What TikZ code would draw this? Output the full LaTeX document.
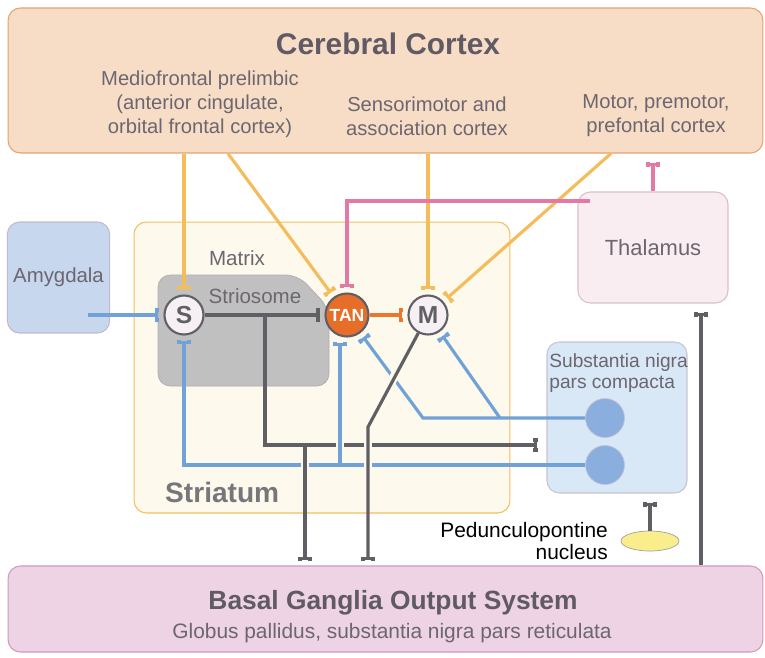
\documentclass[tikz,border=0pt]{standalone}
\usepackage{fontspec}
\setmainfont{Liberation Sans}
\usetikzlibrary{arrows.meta,shapes.geometric}

\definecolor{cortexfill}{RGB}{248,221,198}
\definecolor{cortexdraw}{RGB}{232,160,110}
\definecolor{amyfill}{RGB}{198,215,238}
\definecolor{amydraw}{RGB}{195,185,205}
\definecolor{stfill}{RGB}{253,250,237}
\definecolor{stdraw}{RGB}{245,190,90}
\definecolor{striofill}{RGB}{192,192,193}
\definecolor{striodraw}{RGB}{175,170,175}
\definecolor{thalfill}{RGB}{249,237,241}
\definecolor{thaldraw}{RGB}{215,192,202}
\definecolor{snfill}{RGB}{216,232,246}
\definecolor{sndraw}{RGB}{200,195,210}
\definecolor{sncell}{RGB}{138,174,222}
\definecolor{bgfill}{RGB}{238,211,228}
\definecolor{bgdraw}{RGB}{214,150,190}
\definecolor{ppnfill}{RGB}{250,238,140}
\definecolor{cellfill}{RGB}{246,240,244}
\definecolor{tanfill}{RGB}{230,110,40}
\definecolor{tanline}{RGB}{236,118,48}
\definecolor{wireblue}{RGB}{112,162,215}
\definecolor{wireorange}{RGB}{245,188,92}
\definecolor{wirepink}{RGB}{226,122,165}
\definecolor{wiregray}{RGB}{95,95,100}
\definecolor{txtdark}{RGB}{95,90,100}
\definecolor{txtgray}{RGB}{108,102,112}

\begin{document}
\begin{tikzpicture}[x=0.02cm,y=-0.02cm,
  region/.style={rounded corners=7pt, line width=0.6pt},
  cell/.style={circle, draw=wiregray, line width=1.2pt, fill=cellfill, minimum size=0.78cm,
    inner sep=0pt, text=wiregray, font=\bfseries\fontsize{14}{14}\selectfont},
  label/.style={text=txtgray, font=\fontsize{11.5}{13.6}\selectfont},
  wire/.style={line width=1.8pt},
  syn/.style={-{Tee Barb[reversed,width=7.5pt,length=2.5pt]}, shorten >=2.5pt},
  gap/.style={draw=stfill, line width=5pt}]
  \useasboundingbox (0,0) rectangle (765,657);

  % Regions
  \node[region, draw=cortexdraw, fill=cortexfill, minimum width=15.1cm, minimum height=2.9cm] (cortex) at (385.5,80.5) {};
  \node[text=txtdark, font=\bfseries\fontsize{17}{20}\selectfont] (ctitle) at (388,44) {Cerebral Cortex};
  \node[label, align=center] (mpfc) at (200,104) {Mediofrontal prelimbic\\(anterior cingulate,\\orbital frontal cortex)};
  \node[label, align=center] (smc) at (427,116) {Sensorimotor and\\association cortex};
  \node[label, align=center] (pmc) at (656,116) {Motor, premotor,\\prefontal cortex};

  \node[region, draw=amydraw, fill=amyfill, minimum width=2.02cm, minimum height=2.22cm, label, font=\fontsize{11.6}{14}\selectfont] (amy) at (58.5,277.5) {Amygdala};
  \node[region, draw=thaldraw, fill=thalfill, minimum width=3cm, minimum height=2.22cm, label, font=\fontsize{12.5}{15}\selectfont] (thal) at (653,247.5) {Thalamus};

  \node[region, draw=stdraw, fill=stfill, minimum width=7.52cm, minimum height=5.82cm] (str) at (322,367.5) {};
  \node[anchor=base west, text=wiregray!85, font=\bfseries\fontsize{16}{18}\selectfont] (strlbl) at (159,502) {Striatum};
  % Striosome patch
  \draw[draw=striodraw, fill=striofill, rounded corners=7pt] (158,386) -- (158,275) -- (298,275) -- (329,308) -- (329,386) -- cycle;
  \node[label, font=\fontsize{11.7}{14}\selectfont] (matrix) at (237,258) {Matrix};
  \node[label, font=\fontsize{11.7}{14}\selectfont] (strio) at (255,296) {Striosome};

  \node[region, draw=sndraw, fill=snfill, minimum width=2.8cm, minimum height=3.02cm] (sn) at (617,417.5) {};
  \node[anchor=west, inner sep=0pt, align=left, text=txtgray, font=\fontsize{10.9}{11.5}\selectfont] (snlbl) at (549,373) {Substantia nigra\\pars compacta};
  \node[circle, draw=sndraw, fill=sncell, minimum size=0.78cm, inner sep=0pt] (sn1) at (605,418) {};
  \node[circle, draw=sndraw, fill=sncell, minimum size=0.78cm, inner sep=0pt] (sn2) at (605,465) {};

  \node[ellipse, draw=wiregray!60, fill=ppnfill, minimum width=1.16cm, minimum height=0.4cm, inner sep=0pt] (ppn) at (650,541) {};
  \node[anchor=east, align=right, font=\fontsize{11.9}{12.5}\selectfont] (ppnlbl) at (614,541) {Pedunculopontine\\nucleus};

  \node[region, draw=bgdraw, fill=bgfill, minimum width=15.1cm, minimum height=1.72cm] (bg) at (385.5,609) {};
  \node[text=txtdark, font=\bfseries\fontsize{15}{18}\selectfont] (bgtitle) at (393,603) {Basal Ganglia Output System};
  \node[label, font=\fontsize{11.9}{14}\selectfont] (bgsub) at (392,633) {Globus pallidus, substantia nigra pars reticulata};

  % Neurons
  \node[cell] (s) at (184,315) {S};
  \node[cell, fill=tanfill, text=white, minimum size=0.86cm, font=\bfseries\fontsize{10}{10}\selectfont] (tan) at (347,315) {TAN};
  \node[cell] (m) at (428,315) {M};

  % Cortical inputs
  \draw[wire, wireorange, syn] (s |- cortex.south) -- (s);
  \draw[wire, wireorange, syn] (228,0 |- cortex.south) -- (tan);
  \draw[wire, wireorange, syn] (m |- cortex.south) -- (m);
  \draw[wire, wireorange, syn] (611,0 |- cortex.south) -- (m);

  % Thalamic inputs
  \draw[wire, wirepink, syn] (590,201) -| (tan);
  \draw[wire, wirepink, syn, shorten >=5pt] (thal) -- (thal |- cortex.south);

  % Striatal wiring
  \draw[wire, tanline, syn] (tan) -- (m);
  \draw[wiregray, line width=2.2pt, syn] (s) -- (tan);
  \coordinate (sbr) at (265,315);
  \coordinate (gbr) at (305,445);
  \draw[wire, wiregray, syn, shorten >=5pt] (sbr) |- (sn.west |- 0,445);

  % Dopamine and amygdala inputs
  \draw[wire, wireblue, syn] (88,315) -- (s);
  \draw[wire, wireblue, syn] (sn2) -- (s |- sn2) -- (s);
  \draw[gap] (340,438) -- (340,452);
  \draw[wire, wireblue, syn] (340,0 |- sn2) -- (340,0 |- tan.south);
  \draw[wire, wireblue, syn] (sn1) -- (423,0 |- sn1) -- (tan);
  \draw[wire, wireblue, syn] (500,0 |- sn1) -- (m);

  % Outputs to basal ganglia
  \draw[gap] (305,457) -- (305,473);
  \draw[gap] (368,436) -- (368,474);
  \draw[gap] (397,371) -- (390,385);
  \draw[wire, wiregray, syn] (gbr) -- (gbr |- bg.north);
  \draw[wire, wiregray, syn] (m) -- (368,427) -- (368,0 |- bg.north);
  \draw[wire, wiregray, syn, shorten >=5pt] (701,0 |- bg.north) -- (701,0 |- thal.south);
  \draw[wire, wiregray, syn, shorten >=5pt] (ppn) -- (ppn |- sn.south);
\end{tikzpicture}
\end{document}
